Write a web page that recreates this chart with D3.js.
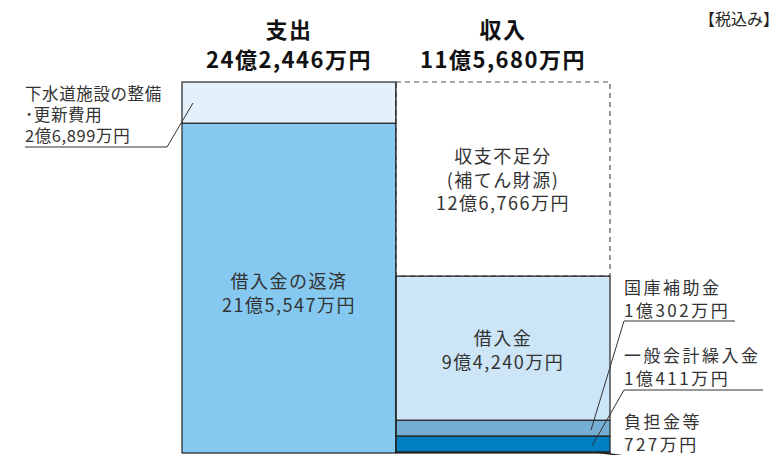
<!DOCTYPE html>
<html>
<head>
<meta charset="utf-8">
<script src="https://cdn.jsdelivr.net/npm/d3@7"></script>
<style>
  body { margin: 0; background: #fff; }
  text { font-family: "Noto Sans CJK JP", "Noto Sans", sans-serif; fill: #333; }
</style>
</head>
<body>
<div id="chart"></div>
<script>
// Values in 万円
const columns = ["支出", "収入"];
const columnTotals = ["24億2,446万円", "11億5,680万円"];

// segments listed bottom to top
const expenseNames = ["借入金の返済", "下水道施設の整備・更新費用"];
const expenseValues = [215547, 26899];
const expenseLabels = ["21億5,547万円", "2億6,899万円"];

const incomeNames = ["負担金等", "一般会計繰入金", "国庫補助金", "借入金", "収支不足分"];
const incomeValues = [727, 10411, 10302, 94240, 126766];
const incomeLabels = ["727万円", "1億411万円", "1億302万円", "9億4,240万円", "12億6,766万円"];

const width = 782;
const height = 455;
const margins = {top: 82, bottom: 2, left: 182, right: 172};

const svg = d3.select("#chart")
  .append("svg")
  .attr("width", width)
  .attr("height", height);

const x = d3.scaleBand()
  .domain(columns)
  .range([margins.left, width - margins.right])
  .padding(0);

const y = d3.scaleLinear()
  .domain([0, d3.sum(expenseValues)])
  .range([height - margins.bottom, margins.top]);

const fills = {
  "借入金の返済": "#85c8f0",
  "下水道施設の整備・更新費用": "#e4f1fb",
  "負担金等": "#10324f",
  "一般会計繰入金": "#0080c0",
  "国庫補助金": "#74afd3",
  "借入金": "#cce6f8",
  "収支不足分": "#ffffff"
};

function stack(names, values, labels) {
  let acc = 0;
  return names.map((n, i) => {
    const d = {name: n, value: values[i], label: labels[i], y0: acc, y1: acc + values[i]};
    acc += values[i];
    return d;
  });
}

const expense = stack(expenseNames, expenseValues, expenseLabels);
const income = stack(incomeNames, incomeValues, incomeLabels);

// draw bars
function drawBar(col, segs) {
  svg.append("g").selectAll("rect")
    .data(segs)
    .enter()
    .append("rect")
    .attr("x", x(col))
    .attr("y", d => y(d.y1))
    .attr("width", x.bandwidth())
    .attr("height", d => y(d.y0) - y(d.y1))
    .attr("fill", d => fills[d.name])
    .attr("stroke", d => d.name === "収支不足分" ? "#555" : "#222")
    .attr("stroke-width", 1.2)
    .attr("stroke-dasharray", d => d.name === "収支不足分" ? "5,4" : null);
}
drawBar("支出", expense);
drawBar("収入", income);

// solid line between 借入金 and 収支不足分, and the shared edge
const loan = income.find(d => d.name === "借入金");
svg.append("line")
  .attr("x1", x("収入")).attr("x2", x("収入") + x.bandwidth())
  .attr("y1", y(loan.y1)).attr("y2", y(loan.y1))
  .attr("stroke", "#222").attr("stroke-width", 1.2);
svg.append("line")
  .attr("x1", x("収入")).attr("x2", x("収入"))
  .attr("y1", y(0)).attr("y2", y(d3.sum(expenseValues)))
  .attr("stroke", "#222").attr("stroke-width", 1.2);

// headers
columns.forEach((c, i) => {
  const cx = x(c) + x.bandwidth() / 2;
  svg.append("text")
    .attr("x", cx).attr("y", 38)
    .attr("text-anchor", "middle")
    .attr("font-size", 22).attr("font-weight", "bold")
    .attr("letter-spacing", 1.5)
    .style("fill", "#111")
    .text(c);
  svg.append("text")
    .attr("x", cx).attr("y", 68)
    .attr("text-anchor", "middle")
    .attr("font-size", 22).attr("font-weight", "bold")
    .attr("letter-spacing", 1.5)
    .style("fill", "#111")
    .text(columnTotals[i]);
});

svg.append("text")
  .attr("x", 779).attr("y", 25)
  .attr("text-anchor", "end")
  .attr("font-size", 16)
  .style("fill", "#222")
  .text("【税込み】");

// inside labels
function inside(col, baseY, lines) {
  const cx = x(col) + x.bandwidth() / 2;
  const t = svg.append("text")
    .attr("text-anchor", "middle")
    .attr("font-size", 18)
    .attr("letter-spacing", 1.5);
  lines.forEach((l, i) => {
    t.append("tspan")
      .attr("x", cx)
      .attr("y", baseY + i * 23.5)
      .text(l);
  });
}
const repay = expense.find(d => d.name === "借入金の返済");
inside("支出", 288, ["借入金の返済", repay.label]);
const gap = income.find(d => d.name === "収支不足分");
inside("収入", 163, ["収支不足分", "(補てん財源)", gap.label]);
inside("収入", 345, ["借入金", loan.label]);

// outside annotations
function labelLines(xText, yTop, lines, pitch, spacing, size) {
  const t = svg.append("text")
    .attr("font-size", size)
    .attr("letter-spacing", spacing);
  lines.forEach((l, i) => {
    t.append("tspan").attr("x", xText).attr("y", yTop + i * pitch).text(l);
  });
}
function leader(points) {
  svg.append("polyline")
    .attr("points", points.map(p => p.join(",")).join(" "))
    .attr("fill", "none")
    .attr("stroke", "#333")
    .attr("stroke-width", 1);
}

const upkeep = expense.find(d => d.name === "下水道施設の整備・更新費用");
labelLines(25, 100, ["下水道施設の整備", "･更新費用", upkeep.label], 21, 0.6, 16.5);
leader([[25, 147], [167, 147], [193, y(upkeep.y1) + 21]]);

const xr = x("収入") + x.bandwidth();
const subsidy = income.find(d => d.name === "国庫補助金");
labelLines(624, 294, ["国庫補助金", subsidy.label], 23, 2.5, 17);
leader([[735, 321], [624, 321], [xr - 19, (y(subsidy.y0) + y(subsidy.y1)) / 2 + 2]]);

const transfer = income.find(d => d.name === "一般会計繰入金");
labelLines(624, 362, ["一般会計繰入金", transfer.label], 23, 2.5, 17);
leader([[763, 390], [624, 390], [xr - 18, (y(transfer.y0) + y(transfer.y1)) / 2 + 2]]);

const share = income.find(d => d.name === "負担金等");
labelLines(624, 428, [share.name, share.label], 23, 2.5, 17);
svg.append("line")
  .attr("x1", xr - 14).attr("y1", y(share.y0) - 1)
  .attr("x2", xr + 50).attr("y2", height + 6)
  .attr("stroke", "#222").attr("stroke-width", 1.5);
</script>
</body>
</html>
